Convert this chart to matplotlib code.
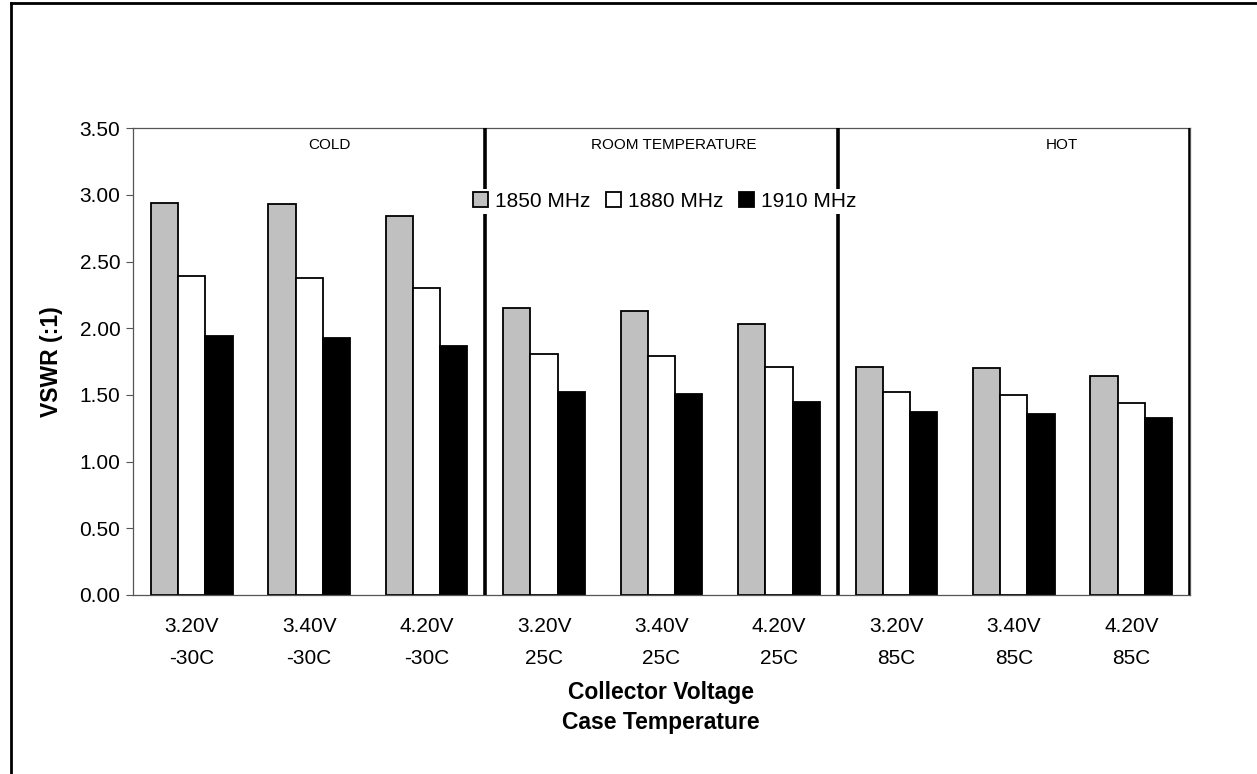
import matplotlib
matplotlib.use("Agg")
import matplotlib.pyplot as plt
from matplotlib.lines import Line2D
import numpy as np

plt.rcParams['font.family'] = ['Liberation Sans', 'DejaVu Sans']

# data
voltages = ['3.20V', '3.40V', '4.20V', '3.20V', '3.40V', '4.20V', '3.20V', '3.40V', '4.20V']
temps = ['-30C', '-30C', '-30C', '25C', '25C', '25C', '85C', '85C', '85C']
sections = ['COLD', 'ROOM TEMPERATURE', 'HOT']
series_names = ['1850 MHz', '1880 MHz', '1910 MHz']
vswr_1850 = [2.94, 2.93, 2.84, 2.15, 2.13, 2.03, 1.71, 1.70, 1.64]
vswr_1880 = [2.39, 2.38, 2.30, 1.81, 1.79, 1.71, 1.52, 1.50, 1.44]
vswr_1910 = [1.94, 1.93, 1.87, 1.52, 1.51, 1.45, 1.37, 1.36, 1.33]

colors = ['#C0C0C0', 'white', 'black']

fig = plt.figure(figsize=(12.57, 7.74), dpi=100)
ax = fig.add_axes([0.1058, 0.2313, 0.8409, 0.6029])

x = np.arange(len(voltages))
w = 0.232
for i, (vals, name) in enumerate(zip([vswr_1850, vswr_1880, vswr_1910], series_names)):
    ax.bar(x + (i - 1) * w, vals, w, color=colors[i], edgecolor='black',
           linewidth=1.3, label=name, zorder=2)

ax.set_xlim(-0.5, 8.5)
ax.set_ylim(0, 3.5)
ax.set_yticks(np.arange(0, 3.51, 0.5))
ax.set_yticklabels(['%.2f' % v for v in np.arange(0, 3.51, 0.5)], fontsize=15)
ax.set_xticks(x)
ax.set_xticklabels([v + '\n' + t for v, t in zip(voltages, temps)],
                   fontsize=15, linespacing=1.85)
ax.tick_params(axis='x', length=0, pad=16)
ax.tick_params(axis='y', length=5, width=0.8, color='#555555', pad=4)

for s in ['top', 'left', 'bottom', 'right']:
    ax.spines[s].set_color('#555555')
    ax.spines[s].set_linewidth(0.9)

# section dividers
for b in [2.5, 5.5, 8.5]:
    ax.axvline(b, color='black', linewidth=2.6, zorder=3)

sec_x = [0.1855, 0.512, 0.879]
for sx, name in zip(sec_x, sections):
    ax.text(sx, 0.964, name, transform=ax.transAxes, ha='center', va='center',
            fontsize=11)

leg = ax.legend(loc='center', bbox_to_anchor=(0.503, 0.844), ncol=3, fontsize=15,
                frameon=True, fancybox=False, edgecolor='none', facecolor='white',
                framealpha=1, handlelength=0.7, handleheight=0.7, handletextpad=0.35,
                columnspacing=0.75, borderpad=0.15, borderaxespad=0)
leg.set_zorder(5)

ax.set_ylabel('VSWR (:1)', fontsize=16.5, fontweight='bold', labelpad=12)

fig.text(0.526, 1 - 692 / 774, 'Collector Voltage', ha='center', va='center',
         fontsize=16.5, fontweight='bold')
fig.text(0.526, 1 - 722 / 774, 'Case Temperature', ha='center', va='center',
         fontsize=16.5, fontweight='bold')

# outer frame (left and top edges)
fig.add_artist(Line2D([11 / 1257, 11 / 1257], [0, 1 - 3 / 774], color='black',
                      linewidth=2, transform=fig.transFigure))
fig.add_artist(Line2D([11 / 1257, 1], [1 - 3 / 774, 1 - 3 / 774], color='black',
                      linewidth=2, transform=fig.transFigure))

fig.savefig('out.png', dpi=100)
